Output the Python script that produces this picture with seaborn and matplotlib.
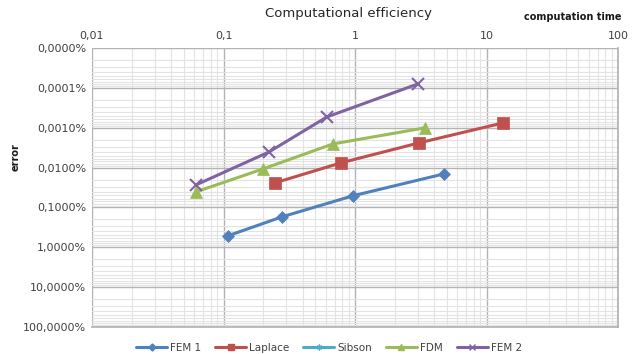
import matplotlib
matplotlib.use("Agg")
import matplotlib.pyplot as plt
import matplotlib.ticker as mticker
import seaborn as sns
import pandas as pd

# computation time (x) and relative error as a fraction (y) per method
fem1_time = [0.108, 0.279, 0.966, 4.75]
fem1_err = [5.15e-3, 1.72e-3, 5.1e-4, 1.44e-4]

laplace_time = [0.247, 0.783, 3.07, 13.3]
laplace_err = [2.41e-4, 7.6e-5, 2.4e-5, 7.6e-6]

sibson_time = []
sibson_err = []

fdm_time = [0.0618, 0.200, 0.68, 3.4]
fdm_err = [4.06e-4, 1.08e-4, 2.55e-5, 1.01e-5]

fem2_time = [0.0618, 0.222, 0.612, 3.01]
fem2_err = [2.72e-4, 4.05e-5, 5.36e-6, 7.97e-7]

methods = ["FEM 1", "Laplace", "Sibson", "FDM", "FEM 2"]
colors = ["#4F81BD", "#C0504D", "#4BACC6", "#9BBB59", "#8064A2"]
markers = ["D", "s", (6, 2, 0), "^", "x"]
marker_sizes = [6, 8, 7, 8, 8]
x_tick_labels = ["0,01", "0,1", "1", "10", "100"]

series = {
    "FEM 1": (fem1_time, fem1_err),
    "Laplace": (laplace_time, laplace_err),
    "Sibson": (sibson_time, sibson_err),
    "FDM": (fdm_time, fdm_err),
    "FEM 2": (fem2_time, fem2_err),
}

sns.set_theme(style="white")
plt.rcParams["font.family"] = ["DejaVu Sans"]

fig = plt.figure(figsize=(6.4, 3.54), dpi=100)
ax = fig.add_axes([92 / 640, 1 - 327 / 354, (618 - 92) / 640, (327 - 48) / 354])

handles = []
for name, color, mk, ms in zip(methods, colors, markers, marker_sizes):
    xs, ys = series[name]
    if len(xs):
        df = pd.DataFrame({"time": xs, "error": ys})
        sns.lineplot(data=df, x="time", y="error", ax=ax, color=color,
                     marker=mk, markersize=ms, linewidth=2.2,
                     markeredgecolor=color, markeredgewidth=1.5 if mk == "x" else 0.5,
                     sort=False, legend=False, zorder=3)
    h, = ax.plot([], [], color=color, marker=mk, markersize=ms * 0.6,
                 linewidth=2.2, markeredgecolor=color, label=name)
    handles.append(h)
if ax.get_legend() is not None:
    ax.get_legend().remove()

ax.set_xscale("log")
ax.set_yscale("log")
ax.set_xlim(0.01, 100)
ax.set_ylim(1, 1e-7)

ax.xaxis.set_minor_locator(mticker.LogLocator(base=10, subs=range(2, 10)))
ax.yaxis.set_major_locator(mticker.LogLocator(base=10, numticks=12))
ax.yaxis.set_minor_locator(mticker.LogLocator(base=10, subs=range(2, 10), numticks=12))

ax.set_xticks([0.01, 0.1, 1, 10, 100])
ax.set_xticklabels(x_tick_labels)
ax.yaxis.set_major_formatter(mticker.FuncFormatter(
    lambda v, p: ("%.4f" % (v * 100)).replace(".", ",") + "%"))
ax.yaxis.set_minor_formatter(mticker.NullFormatter())
ax.xaxis.set_minor_formatter(mticker.NullFormatter())

ax.xaxis.tick_top()
ax.tick_params(axis="both", which="both", length=0, labelsize=8, colors="#404040", pad=4)
ax.tick_params(axis="x", pad=5)

ax.grid(True, which="major", color="#b3b3b3", linewidth=1.0)
ax.grid(True, which="minor", color="#e3e3e3", linewidth=0.8)
ax.set_axisbelow(True)
for s in ax.spines.values():
    s.set_visible(False)
ax.spines["right"].set_visible(True)
ax.spines["right"].set_color("#b3b3b3")
ax.spines["bottom"].set_visible(True)
ax.spines["bottom"].set_color("#b3b3b3")

ax.set_xlabel("")
ax.set_ylabel("")

fig.text(0.5 * (92 + 618) / 640 - 0.01, 1 - 14 / 354, "Computational efficiency",
         ha="center", va="center", fontsize=9.5, color="#262626")
fig.text(622 / 640, 1 - 17 / 354, "computation time", ha="right", va="center",
         fontsize=7, fontweight="bold", color="#1a1a1a")
fig.text(16 / 640, 1 - 157 / 354, "error", ha="center", va="center",
         rotation=90, fontsize=7, fontweight="bold", color="#1a1a1a")

fig.legend(handles=handles, loc="center", bbox_to_anchor=(329 / 640, 1 - 348 / 354),
           ncol=5, frameon=False, fontsize=7.5, handlelength=3.0,
           columnspacing=1.3, handletextpad=0.3, labelcolor="#404040")

fig.savefig("out.png", dpi=100)
